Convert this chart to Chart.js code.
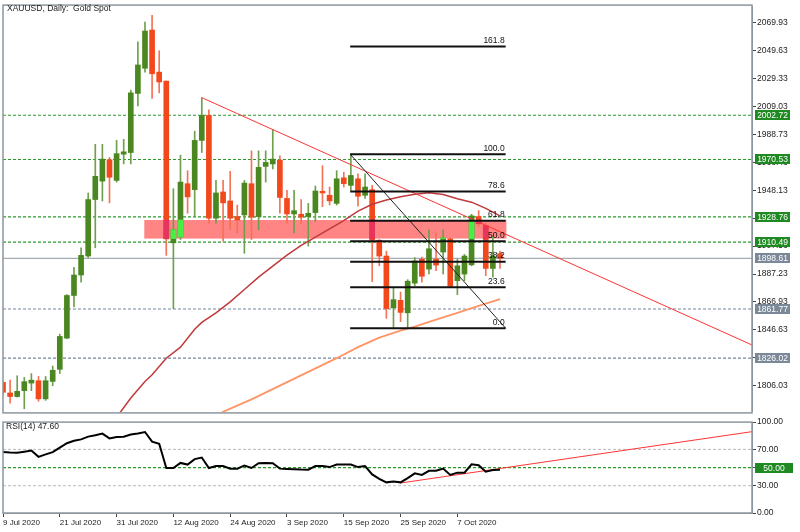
<!DOCTYPE html>
<html>
<head>
<meta charset="utf-8">
<title>XAUUSD Daily</title>
<script src="https://cdn.jsdelivr.net/npm/chart.js@4.4.0/dist/chart.umd.min.js"></script>
<style>
  body { margin: 0; background: #fff; }
  #contenedor { position: relative; width: 800px; height: 532px; overflow: hidden; background: #fff; }
  #grafica { position: absolute; left: 0; top: 0; }
  #grafica2 { position: absolute; left: 0; top: 416px; }
</style>
</head>
<body>
<div id="contenedor">
  <canvas id="grafica" width="800" height="418"></canvas>
  <canvas id="grafica2" width="800" height="116"></canvas>
</div>
<script>
// velas diarias, desde 9 Jul 2020 (indice 0) hasta 15 Oct 2020 (indice 70)
var aperturas = [1808.4,1800.7,1798.1,1802.4,1807.9,1809.6,1796.4,1809.1,1817.9,1840.6,
  1871.6,1886.5,1900.3,1941.4,1954.8,1970.3,1955.3,1974.4,1975.6,2018.6,
  2036.9,2064.7,2034.1,2027.6,1909.9,1914.2,1952.9,1948.6,1984.4,2002.6,
  1927.8,1946.9,1940.4,1929.0,1930.2,1952.9,1929.0,1965.5,1967.3,1970.1,
  1942.2,1930.9,1930.7,1929.0,1931.9,1947.4,1944.5,1938.6,1957.2,1951.7,
  1956.5,1944.5,1948.6,1911.8,1900.3,1862.6,1868.1,1859.0,1880.6,1898.0,
  1890.8,1898.0,1903.2,1912.8,1882.4,1887.2,1893.9,1929.0,1922.3,1891.3,1902.0];
var maximos = [1809.5,1810.0,1813.2,1812.0,1814.8,1812.7,1812.7,1820.3,1843.5,1872.2,
  1892.0,1906.3,1946.2,1981.6,1981.6,1972.0,1984.4,1985.2,2021.0,2056.1,
  2070.4,2075.4,2049.6,2027.6,1949.3,1973.7,1962.4,1991.1,2015.5,2006.6,
  1955.3,1955.3,1961.9,1937.4,1955.3,1976.8,1976.8,1976.8,1992.3,1973.2,
  1948.1,1948.1,1941.4,1938.6,1951.2,1966.0,1950.5,1962.4,1961.2,1974.4,
  1960.1,1960.1,1951.7,1912.3,1903.9,1877.0,1874.1,1883.1,1899.2,1899.6,
  1919.4,1917.1,1919.4,1913.5,1898.0,1901.5,1930.7,1933.3,1924.2,1914.6,1903.9];
var minimos = [1799.0,1793.3,1797.7,1789.2,1802.4,1794.6,1795.3,1806.0,1814.8,1840.1,
  1863.3,1881.2,1899.2,1906.3,1940.4,1939.0,1954.1,1967.3,1967.3,2009.5,
  2034.1,2015.0,2019.0,1900.8,1862.1,1912.3,1931.4,1929.0,1975.6,1924.2,
  1924.2,1911.1,1919.4,1917.1,1902.3,1912.3,1919.4,1954.1,1963.6,1931.4,
  1924.2,1917.1,1923.8,1907.5,1925.4,1936.2,1937.4,1937.4,1950.5,1948.1,
  1936.6,1942.2,1881.7,1893.2,1855.0,1848.3,1852.6,1847.8,1878.8,1881.2,
  1887.2,1889.6,1887.2,1877.7,1872.2,1882.4,1893.2,1921.8,1886.0,1884.9,1891.3];
var cierres = [1801.2,1798.1,1801.9,1808.9,1810.0,1796.4,1809.6,1817.2,1841.8,1871.6,
  1886.5,1900.8,1941.4,1958.3,1970.8,1957.6,1974.8,1976.1,2019.0,2039.3,
  2064.0,2032.9,2026.9,1912.8,1919.4,1954.1,1943.3,1984.4,2002.6,1927.8,
  1946.2,1939.0,1927.8,1926.6,1953.4,1928.6,1964.8,1968.4,1970.8,1942.9,
  1930.9,1933.3,1928.6,1931.4,1947.6,1946.2,1940.4,1956.5,1952.9,1958.9,
  1943.8,1950.5,1911.8,1900.3,1862.1,1868.6,1859.3,1882.0,1896.7,1885.6,
  1905.6,1893.7,1913.5,1878.4,1893.2,1900.3,1929.5,1923.8,1891.3,1900.3,1898.6];

// RSI(14)
var rsi = [67,66.5,66.3,67.5,68.7,61.8,64.5,67,72,76.8,
  79.5,81,84,85.6,87.4,82.1,83.5,83.9,86.3,87.4,
  89.1,78.5,76.1,49.5,49.5,55.1,53.3,59.3,61,49.5,
  51.6,51.6,48.8,48.8,52.3,49.5,54.7,55.1,54.7,48.8,
  48.4,48.1,47.8,47.7,51.6,51.6,50.5,53.3,53.3,53.3,
  50.5,51.6,42.5,37.5,33.7,34.7,33.7,38.4,43.6,41.9,
  46.4,46.4,48.9,41.9,44.4,44.4,53.5,52.5,45.4,47.2,47.6];

var mediaRoja = [[16,1783],[18,1797],[20,1809],[21,1814],[23,1826],[25,1834],[27,1847],[28,1852],
  [30,1859],[32,1867],[34,1876],[36,1885],[38,1893],[40,1901],[42,1908],[44,1914],[46,1920],
  [48,1926],[50,1933],[52,1938],[54,1941],[56,1943.5],[58,1945.3],[60,1946.3],[62,1945],
  [64,1942],[66,1939.5],[68,1935],[70,1929.5]];
var mediaNaranja = [[30,1783],[31,1787],[35,1796],[39,1806],[43,1816],[47,1826],[50,1834],
  [53,1841],[56,1846],[58,1849],[61,1854],[64,1859],[67,1864],[70,1869]];

// lineas dibujadas
var tendencia = [[28,2015.5],[105.5,1835.6]];
var tendenciaRsi = [[56,33],[105.5,89.5]];
var nivelesVerdes = [2002.72, 1970.53, 1928.76, 1910.49];
var nivelesGrises = [1861.77, 1826.02];
var precioActual = 1898.61;
var zonaInicio = 19.9, zonaFin = 70.9, zonaAlta = 1926.5, zonaBaja = 1913.0;
var fibInicio = 48.9, fibFin = 70.8, fibAlto = 1974.4, fibBajo = 1847.8;
var fibNiveles = [0, 23.6, 38.2, 50, 61.8, 78.6, 100, 161.8];
var fibTextos = ['0.0', '23.6', '38.2', '50.0', '61.8', '78.6', '100.0', '161.8'];

// ejes
var marcasPrecio = [2069.93,2049.63,2029.33,2009.03,1988.73,1968.43,1948.13,1927.83,1907.53,1887.23,1866.93,1846.63,1826.33,1806.03];
var marcasRsi = [0, 30, 50, 70, 100];
var marcasFecha = [0, 8, 16, 24, 32, 40, 48, 56, 64];
var fechas = ['9 Jul 2020','21 Jul 2020','31 Jul 2020','12 Aug 2020','24 Aug 2020','3 Sep 2020','15 Sep 2020','25 Sep 2020','7 Oct 2020'];

var verde = '#4b8720', rojo = '#f2481c', verdeMecha = '#6f9f4c', rojoMecha = '#f47356';
var fuente = 'Liberation Sans';
var colorTexto = '#1c1c1c';

var cuerpos = [], mechas = [], enZona = [];
for (var i = 0; i < aperturas.length; i++) {
  cuerpos.push({x: i, y: [aperturas[i], cierres[i]]});
  mechas.push({x: i, y: [minimos[i], maximos[i]]});
  var bajo = Math.max(Math.min(aperturas[i], cierres[i]), zonaBaja);
  var alto = Math.min(Math.max(aperturas[i], cierres[i]), zonaAlta);
  if (i >= zonaInicio && alto > bajo) {
    enZona.push({x: i, y: [bajo, alto], sube: cierres[i] >= aperturas[i]});
  }
}

function puntos(lista) {
  return lista.map(function(p){ return {x: p[0], y: p[1]}; });
}
function horizontal(valor, desde, hasta) {
  return [{x: desde, y: valor}, {x: hasta, y: valor}];
}

var conjuntos = [];
nivelesVerdes.forEach(function(v){
  conjuntos.push({type:'line', data: horizontal(v, 0, 105.5), borderColor:'#2a9a2a', borderWidth:1.2, borderDash:[3,2], pointRadius:0, order:10});
});
nivelesGrises.forEach(function(v){
  conjuntos.push({type:'line', data: horizontal(v, 0, 105.5), borderColor:'#7486a0', borderWidth:1.2, borderDash:[3,2], pointRadius:0, order:10});
});
conjuntos.push({type:'line', data: horizontal(precioActual, 0, 105.5), borderColor:'#a3acb5', borderWidth:1.2, pointRadius:0, order:10});

conjuntos.push({type:'bar', data: mechas, barThickness:1, grouped:false, minBarLength:1, order:7,
  backgroundColor: function(c){ return cierres[c.dataIndex] >= aperturas[c.dataIndex] ? verdeMecha : rojoMecha; }});
conjuntos.push({type:'bar', data: cuerpos, barThickness:5, grouped:false, minBarLength:1, order:6,
  backgroundColor: function(c){ return cierres[c.dataIndex] >= aperturas[c.dataIndex] ? verde : rojo; }});
conjuntos.push({type:'bar', data: enZona, barThickness:5, grouped:false, order:5,
  backgroundColor: function(c){ return c.raw && c.raw.sube ? '#46ee46' : '#e6345c'; }});

conjuntos.push({type:'line', data: puntos(mediaRoja), borderColor:'#c0393b', borderWidth:1.5, pointRadius:0, order:4});
conjuntos.push({type:'line', data: puntos(mediaNaranja), borderColor:'#ff9466', borderWidth:1.8, pointRadius:0, order:4});
conjuntos.push({type:'line', data: puntos(tendencia), borderColor:'#ff3434', borderWidth:1, pointRadius:0, order:3});

fibNiveles.forEach(function(n){
  var precio = fibBajo + (fibAlto - fibBajo) * n / 100;
  conjuntos.push({type:'line', data: horizontal(precio, fibInicio, fibFin), borderColor:'#111', borderWidth:2, pointRadius:0, order:2});
});
conjuntos.push({type:'line', data: [{x: fibInicio, y: fibAlto}, {x: fibFin, y: fibBajo}], borderColor:'#222', borderWidth:1, pointRadius:0, order:2});

function caja(c, y, texto, color, ancho) {
  c.fillStyle = color;
  c.fillRect(755, Math.round(y) - 5, ancho, 10);
  c.fillStyle = '#fff';
  c.font = '8.5px ' + fuente;
  c.textAlign = 'center';
  c.textBaseline = 'middle';
  c.fillText(texto, 755 + ancho / 2, Math.round(y) + 0.5);
}

var dibujos = {
  id: 'dibujos',
  beforeDatasetsDraw: function(chart) {
    var c = chart.ctx, x = chart.scales.x, y = chart.scales.y;
    var x1 = x.getPixelForValue(zonaInicio), x2 = x.getPixelForValue(zonaFin);
    var y1 = y.getPixelForValue(zonaAlta), y2 = y.getPixelForValue(zonaBaja);
    c.save();
    c.fillStyle = '#ff8484';
    c.fillRect(x1, y1, x2 - x1, y2 - y1);
    c.restore();
  },
  afterDatasetsDraw: function(chart) {
    var c = chart.ctx, x = chart.scales.x, y = chart.scales.y;
    c.save();
    c.fillStyle = '#111';
    c.font = '8.5px ' + fuente;
    c.textAlign = 'right';
    c.textBaseline = 'bottom';
    fibNiveles.forEach(function(n, k){
      var precio = fibBajo + (fibAlto - fibBajo) * n / 100;
      c.fillText(fibTextos[k], x.getPixelForValue(fibFin) - 1, y.getPixelForValue(precio) - 1.5);
    });
    c.restore();
  },
  afterDraw: function(chart) {
    var c = chart.ctx, a = chart.chartArea, y = chart.scales.y;
    c.save();
    c.strokeStyle = '#8c979e';
    c.lineWidth = 1.5;
    c.strokeRect(a.left, a.top - 1, a.right - a.left, a.bottom - a.top + 2);
    c.fillStyle = colorTexto;
    c.font = '8.5px ' + fuente;
    c.textAlign = 'left';
    c.textBaseline = 'middle';
    c.fillText('XAUUSD, Daily:  Gold Spot', 7, 9);
    nivelesVerdes.forEach(function(v){ caja(c, y.getPixelForValue(v), v.toFixed(2), '#1f8a22', 35); });
    nivelesGrises.forEach(function(v){ caja(c, y.getPixelForValue(v), v.toFixed(2), '#7a8897', 35); });
    caja(c, y.getPixelForValue(precioActual), precioActual.toFixed(2), '#7a8897', 35);
    c.restore();
  }
};

var ctx = document.getElementById('grafica').getContext('2d');
var grafica = new Chart(ctx, {
  type: 'bar',
  data: { datasets: conjuntos },
  options: {
    responsive: false,
    animation: false,
    layout: { padding: { left: 3, top: 3, right: 0, bottom: 3 } },
    plugins: { legend: { display: false }, tooltip: { enabled: false } },
    scales: {
      x: { type: 'linear', min: 0, max: 105.5, offset: false, display: false },
      y: {
        position: 'right', min: 1786.92, max: 2082.11,
        afterBuildTicks: function(s){ s.ticks = marcasPrecio.map(function(v){ return {value: v}; }); },
        afterFit: function(s){ s.width = 48; },
        grid: { drawOnChartArea: false, tickLength: 4, color: '#444' },
        border: { color: '#8c979e' },
        ticks: { font: { family: fuente, size: 8.5 }, color: colorTexto, padding: 1,
          callback: function(v){ return v.toFixed(2); } }
      }
    }
  },
  plugins: [dibujos]
});

var dibujosRsi = {
  id: 'dibujosRsi',
  afterDraw: function(chart) {
    var c = chart.ctx, a = chart.chartArea, y = chart.scales.y;
    c.save();
    c.strokeStyle = '#8c979e';
    c.lineWidth = 1.5;
    c.strokeRect(a.left, a.top, a.right - a.left, a.bottom - a.top);
    c.fillStyle = colorTexto;
    c.font = '8.5px ' + fuente;
    c.textAlign = 'left';
    c.textBaseline = 'middle';
    c.fillText('RSI(14) 47.60', 6, 11);
    caja(c, y.getPixelForValue(50), '50.00', '#1f8a22', 38);
    c.restore();
  }
};

var ctx2 = document.getElementById('grafica2').getContext('2d');
var grafica2 = new Chart(ctx2, {
  type: 'line',
  data: {
    datasets: [
      { data: rsi.map(function(v, k){ return {x: k, y: v}; }), borderColor: '#000', borderWidth: 2, pointRadius: 0, order: 1 },
      { data: puntos(tendenciaRsi), borderColor: '#ff3434', borderWidth: 1, pointRadius: 0, order: 2 },
      { data: horizontal(70, 0, 105.5), borderColor: '#b9b9b9', borderWidth: 1, borderDash: [3,2], pointRadius: 0, order: 5 },
      { data: horizontal(30, 0, 105.5), borderColor: '#b9b9b9', borderWidth: 1, borderDash: [3,2], pointRadius: 0, order: 5 },
      { data: horizontal(50, 0, 105.5), borderColor: '#2a9a2a', borderWidth: 1.2, borderDash: [3,2], pointRadius: 0, order: 5 }
    ]
  },
  options: {
    responsive: false,
    animation: false,
    layout: { padding: { left: 3, top: 2, right: 0, bottom: 0 } },
    plugins: { legend: { display: false }, tooltip: { enabled: false } },
    scales: {
      x: {
        type: 'linear', min: 0, max: 105.5, offset: false,
        afterBuildTicks: function(s){ s.ticks = marcasFecha.map(function(v){ return {value: v}; }); },
        afterFit: function(s){ s.height = 19; },
        grid: { drawOnChartArea: false, tickLength: 4, color: '#444' },
        border: { color: '#8c979e' },
        ticks: { font: { family: fuente, size: 8 }, color: colorTexto, padding: 1, align: 'start',
          maxRotation: 0, autoSkip: false,
          callback: function(v){ return fechas[marcasFecha.indexOf(v)]; } }
      },
      y: {
        position: 'right', min: 0, max: 100,
        afterBuildTicks: function(s){ s.ticks = marcasRsi.map(function(v){ return {value: v}; }); },
        afterFit: function(s){ s.width = 48; },
        grid: { drawOnChartArea: false, tickLength: 4, color: '#444' },
        border: { color: '#8c979e' },
        ticks: { font: { family: fuente, size: 8.5 }, color: colorTexto, padding: 1,
          callback: function(v){ return v.toFixed(2); } }
      }
    }
  },
  plugins: [dibujosRsi]
});
</script>
</body>
</html>
